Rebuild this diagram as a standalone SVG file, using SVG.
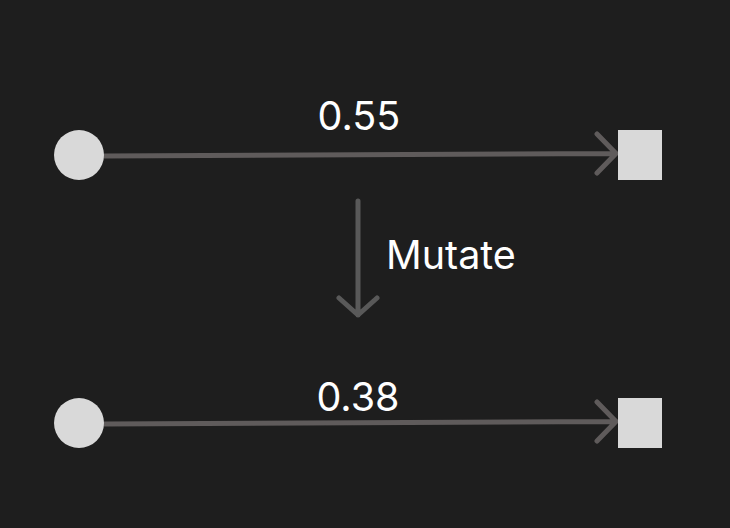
<svg xmlns="http://www.w3.org/2000/svg" width="730" height="528" viewBox="0 0 730 528">
<style>
.node{fill:#d9d9d9}
.edge{fill:none;stroke:#5f5b5b;stroke-width:5;stroke-linecap:round;stroke-linejoin:round}
.lbl{font-family:Inter,"Liberation Sans",sans-serif;font-size:39.5px;fill:#ffffff}
</style>
<rect width="730" height="528" fill="#1e1e1e"/>
<g id="connectors">
<path class="edge" d="M104 156 L616 153.5 M597 134 L616 153.5 L597 173"/>
<path class="edge" d="M104 424 L616 421.5 M597 402 L616 421.5 L597 441"/>
<path class="edge" style="stroke:#595959" d="M358 201 L358 315 M339 298 L358 315 L377 298"/>
</g>
<g id="label-top"><text class="lbl" x="359" y="130" text-anchor="middle">0.55</text></g>
<g id="label-mutate"><text class="lbl" x="386" y="269">Mutate</text></g>
<g id="label-bottom"><text class="lbl" x="358" y="411" text-anchor="middle">0.38</text></g>
<g id="c1"><circle class="node" cx="79" cy="155" r="25"/></g>
<g id="s1"><rect class="node" x="618" y="130" width="44" height="50"/></g>
<g id="c2"><circle class="node" cx="79" cy="423" r="25"/></g>
<g id="s2"><rect class="node" x="618" y="398" width="44" height="50"/></g>
</svg>
